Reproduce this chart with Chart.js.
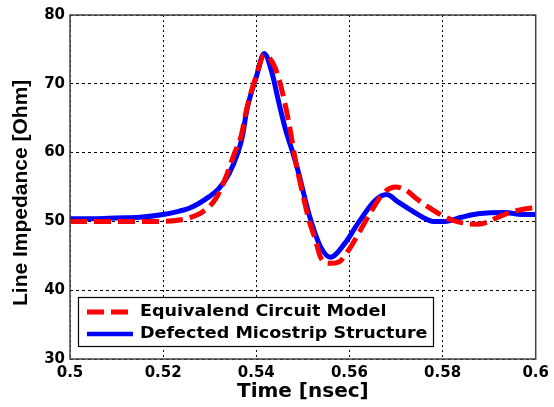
<!DOCTYPE html>
<html>
<head>
<meta charset="utf-8">
<script src="https://cdn.jsdelivr.net/npm/chart.js@4"></script>
<style>
  html, body { margin: 0; padding: 0; background: #fff; }
</style>
</head>
<body>
<canvas id="impedanceChart" width="554" height="407"></canvas>
<script>
// Line impedance [Ohm] vs time [nsec]
const circuitTime = [0.500, 0.510, 0.520, 0.5235, 0.5256, 0.5285, 0.5313, 0.5335, 0.5353, 0.5367, 0.5380, 0.5400, 0.5417,
    0.5430, 0.5445, 0.5463, 0.5474, 0.5484, 0.5498, 0.5513, 0.5527, 0.5538, 0.5556, 0.5577, 0.5598, 0.5620, 0.5648,
    0.5673, 0.5699, 0.5720, 0.5748, 0.5790, 0.5820, 0.5848, 0.5876, 0.5900, 0.5919, 0.5950, 0.5976, 0.600];
const circuitZ = [50.0, 50.0, 50.0, 50.2, 50.5, 51.4, 53.3, 56.5, 59.9, 62.3, 66.5, 71.2, 74.2,
    73.6, 71.5, 66.7, 62.8, 58.9, 54.5, 50.2, 47.3, 44.8, 43.9, 44.1, 45.8, 48.3, 51.6,
    54.1, 55.0, 54.6, 53.1, 51.2, 50.2, 49.7, 49.6, 50.0, 50.6, 51.4, 51.8, 52.0];

const microstripTime = [0.500, 0.505, 0.510, 0.515, 0.520, 0.5235, 0.5256, 0.5299, 0.5320, 0.5342, 0.5360, 0.5370, 0.5380,
    0.5400, 0.5417, 0.5434, 0.5449, 0.5463, 0.5477, 0.5491, 0.5502, 0.5513, 0.5524, 0.5538, 0.5559, 0.5590, 0.5620,
    0.5656, 0.5680, 0.5705, 0.5733, 0.5760, 0.5780, 0.5805, 0.5840, 0.5876, 0.5934, 0.5970, 0.600];
const microstripZ = [50.4, 50.4, 50.5, 50.6, 51.0, 51.5, 51.9, 53.6, 54.8, 57.0, 59.9, 62.3, 66.3,
    71.0, 74.4, 71.5, 67.1, 63.3, 60.3, 57.0, 54.0, 51.1, 48.7, 46.3, 44.8, 46.8, 49.9,
    53.1, 53.9, 52.8, 51.6, 50.5, 50.0, 50.0, 50.6, 51.1, 51.3, 51.0, 51.0];

const seriesNames = ['Equivalend Circuit Model', 'Defected Micostrip Structure'];
const xTicks = [0.5, 0.52, 0.54, 0.56, 0.58, 0.6];
const yTicks = [30, 40, 50, 60, 70, 80];

const RED = 'rgb(255, 0, 0)';
const BLUE = 'rgb(0, 0, 255)';
const RED_DASH = [17, 7];

Chart.defaults.font.family = "'DejaVu Sans', sans-serif";
Chart.defaults.font.weight = 'bold';
Chart.defaults.font.size = 15;
Chart.defaults.color = '#000';

function toPoints(xs, ys) {
    return xs.map((x, i) => ({ x: x, y: ys[i] }));
}

// MATLAB-like box around the axes plus the boxed legend in the lower left
const frameAndLegend = {
    id: 'frameAndLegend',
    afterDatasetsDraw(chart) {
        const { ctx, chartArea: a } = chart;
        ctx.save();
        ctx.strokeStyle = '#444';
        ctx.lineWidth = 1.5;
        ctx.strokeRect(a.left, a.top, a.right - a.left, a.bottom - a.top);

        // legend box
        const box = { x: 78.5, y: 297.5, w: 355, h: 49 };
        ctx.fillStyle = '#fff';
        ctx.fillRect(box.x, box.y, box.w, box.h);
        ctx.strokeStyle = '#000';
        ctx.lineWidth = 1.2;
        ctx.strokeRect(box.x, box.y, box.w, box.h);

        const rows = [
            { y: 312, color: RED, dash: RED_DASH, width: 5, end: 128 },
            { y: 334, color: BLUE, dash: [], width: 4.5, end: 133 }
        ];
        ctx.font = "bold 15px 'DejaVu Sans', sans-serif";
        ctx.textBaseline = 'middle';
        ctx.textAlign = 'left';
        rows.forEach((row, i) => {
            ctx.beginPath();
            ctx.setLineDash(row.dash);
            ctx.strokeStyle = row.color;
            ctx.lineWidth = row.width;
            ctx.moveTo(87, row.y);
            ctx.lineTo(row.end, row.y);
            ctx.stroke();
            ctx.setLineDash([]);
            // reference text is drawn a little wide
            ctx.save();
            ctx.translate(140, row.y);
            ctx.scale(1.17, 1);
            ctx.fillStyle = '#000';
            ctx.fillText(seriesNames[i], 0, 0);
            ctx.restore();
        });
        ctx.restore();
    }
};

new Chart(document.getElementById('impedanceChart'), {
    type: 'line',
    data: {
        datasets: [{
            label: seriesNames[0],
            data: toPoints(circuitTime, circuitZ),
            borderColor: RED,
            borderWidth: 5,
            borderDash: RED_DASH,
            pointRadius: 0,
            cubicInterpolationMode: 'monotone',
            fill: false
        }, {
            label: seriesNames[1],
            data: toPoints(microstripTime, microstripZ),
            borderColor: BLUE,
            borderWidth: 5,
            pointRadius: 0,
            cubicInterpolationMode: 'monotone',
            fill: false
        }]
    },
    options: {
        responsive: false,
        animation: false,
        devicePixelRatio: 1,
        layout: { padding: { left: 9, top: 15, right: 16, bottom: 3 } },
        plugins: {
            legend: { display: false },
            tooltip: { enabled: false }
        },
        scales: {
            x: {
                type: 'linear',
                min: 0.5,
                max: 0.6,
                afterBuildTicks: s => { s.ticks = xTicks.map(v => ({ value: v })); },
                afterFit: s => { s.height = 45; },
                ticks: {
                    padding: 5,
                    maxRotation: 0,
                    callback: v => String(+v.toFixed(2))
                },
                grid: { color: '#000', lineWidth: 1, drawTicks: false },
                border: { display: false, dash: [2, 3] },
                title: {
                    display: true,
                    text: 'Time [nsec]',
                    font: { size: 20, weight: 'bold' },
                    padding: 0
                }
            },
            y: {
                min: 30,
                max: 80,
                afterBuildTicks: s => { s.ticks = yTicks.map(v => ({ value: v })); },
                afterFit: s => { s.width = 61; },
                ticks: { padding: 5 },
                grid: { color: '#000', lineWidth: 1, drawTicks: false },
                border: { display: false, dash: [3, 3] },
                title: {
                    display: true,
                    text: 'Line Impedance [Ohm]  ',
                    font: { family: "'Liberation Sans', sans-serif", size: 21, weight: 'bold' },
                    padding: 0
                }
            }
        }
    },
    plugins: [frameAndLegend]
});
</script>
</body>
</html>
